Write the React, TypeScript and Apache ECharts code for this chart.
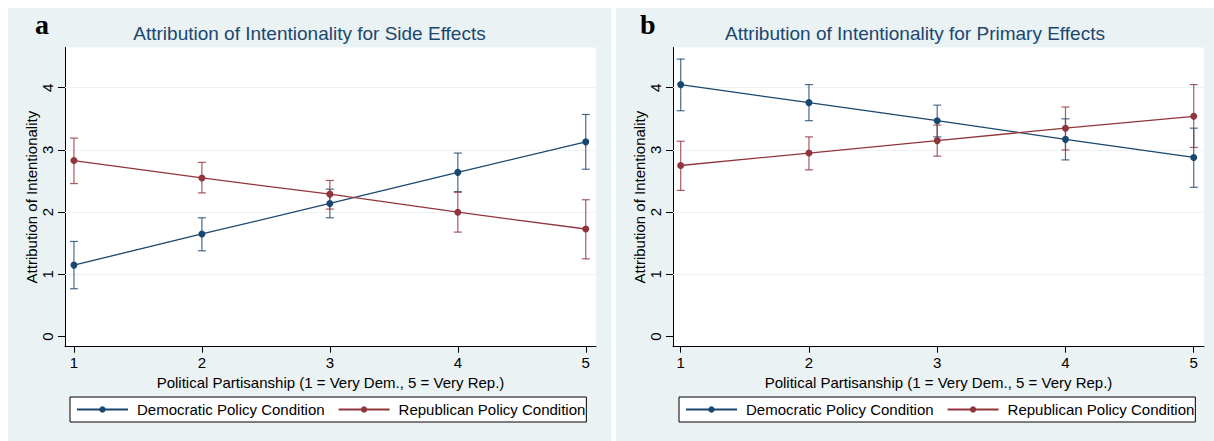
import React, { useEffect, useRef } from "react";
import * as echarts from "echarts";

// ---- Data ----
const xTicks = [1, 2, 3, 4, 5];
const yTicks = [0, 1, 2, 3, 4];
const gridLines = [1, 2, 3, 4];

const seriesNames = ["Democratic Policy Condition", "Republican Policy Condition"];
const panelTitles = [
  "Attribution of Intentionality for Side Effects",
  "Attribution of Intentionality for Primary Effects",
];
const panelLetters = ["a", "b"];
const xAxisTitle = "Political Partisanship (1 = Very Dem., 5 = Very Rep.)";
const yAxisTitle = "Attribution of Intentionality";

// Panel a: side effects
const sideDem = [1.15, 1.65, 2.14, 2.64, 3.13];
const sideDemLo = [0.77, 1.38, 1.91, 2.33, 2.69];
const sideDemHi = [1.53, 1.91, 2.37, 2.95, 3.57];
const sideRep = [2.83, 2.55, 2.29, 2.0, 1.73];
const sideRepLo = [2.46, 2.31, 2.05, 1.68, 1.25];
const sideRepHi = [3.19, 2.8, 2.51, 2.32, 2.2];

// Panel b: primary effects
const primDem = [4.05, 3.76, 3.47, 3.17, 2.88];
const primDemLo = [3.63, 3.47, 3.21, 2.84, 2.4];
const primDemHi = [4.46, 4.05, 3.72, 3.5, 3.35];
const primRep = [2.75, 2.95, 3.15, 3.35, 3.54];
const primRepLo = [2.35, 2.68, 2.9, 3.0, 3.04];
const primRepHi = [3.14, 3.21, 3.4, 3.69, 4.05];

const NAVY = "#1a476f";
const MAROON = "#90353b";
const BG = "#eaf2f3";
const FONT = "'Liberation Sans', Arial, Helvetica, sans-serif";

function pairs(ys: number[]) {
  return xTicks.map((x, i) => [x, ys[i]]);
}
function ranges(lo: number[], hi: number[]) {
  return xTicks.map((x, i) => [x, lo[i], hi[i]]);
}

function errorSeries(idx: number, data: number[][], color: string, withGrid: boolean) {
  const s: any = {
    type: "custom",
    xAxisIndex: idx,
    yAxisIndex: idx,
    z: 2,
    silent: true,
    data,
    encode: { x: 0, y: [1, 2] },
    renderItem: (params: any, api: any) => {
      const x = api.value(0);
      const lo = api.coord([x, api.value(1)]);
      const hi = api.coord([x, api.value(2)]);
      const w = 4;
      const style = { stroke: color, lineWidth: 1.2, opacity: 0.8 };
      return {
        type: "group",
        children: [
          { type: "line", shape: { x1: lo[0], y1: lo[1], x2: hi[0], y2: hi[1] }, style },
          { type: "line", shape: { x1: lo[0] - w, y1: lo[1], x2: lo[0] + w, y2: lo[1] }, style },
          { type: "line", shape: { x1: hi[0] - w, y1: hi[1], x2: hi[0] + w, y2: hi[1] }, style },
        ],
      };
    },
  };
  if (withGrid) {
    s.markLine = {
      silent: true,
      symbol: ["none", "none"],
      z: 1,
      label: { show: false },
      lineStyle: { color: BG, width: 1.2, type: "solid" },
      data: gridLines.map((v) => ({ yAxis: v })),
    };
  }
  return s;
}

function lineSeries(idx: number, name: string, data: number[][], color: string) {
  return {
    type: "line",
    name,
    xAxisIndex: idx,
    yAxisIndex: idx,
    z: 3,
    data,
    symbol: "circle",
    symbolSize: 7,
    color,
    itemStyle: { color },
    lineStyle: { color, width: 1.3 },
  };
}

const gridDefs = [
  { left: 65, width: 531 },
  { left: 673, width: 531 },
];
const panelRects = [
  { x: 8, w: 603 },
  { x: 616, w: 598 },
];
const legendLefts = [70, 679];

export default function App() {
  const ref = useRef<HTMLDivElement>(null);
  useEffect(() => {
    document.body.style.margin = "0";
    const chart = echarts.init(ref.current!, null, { renderer: "svg" });

    const axisText = { color: "#000", fontSize: 15, fontFamily: FONT };

    const option: any = {
      animation: false,
      textStyle: { fontFamily: FONT },
      graphic: [
        ...panelRects.map((p) => ({
          type: "rect",
          z: -10,
          silent: true,
          shape: { x: p.x, y: 8, width: p.w, height: 433 },
          style: { fill: BG },
        })),
        ...panelLetters.map((t, i) => ({
          type: "text",
          z: 10,
          x: i === 0 ? 35 : 640,
          y: 24,
          style: {
            text: t,
            font: "bold 28px 'Liberation Serif', 'Times New Roman', serif",
            fill: "#000",
            verticalAlign: "middle",
          },
        })),
      ],
      title: panelTitles.map((t, i) => ({
        text: t,
        left: i === 0 ? 309.5 : 915,
        textAlign: "center",
        top: 24,
        padding: 0,
        textStyle: { color: NAVY, fontSize: 19, fontWeight: "normal", fontFamily: FONT },
      })),
      grid: gridDefs.map((g) => ({
        left: g.left,
        width: g.width,
        top: 47.5,
        height: 299.2,
        show: true,
        backgroundColor: "#fff",
        borderWidth: 0,
        containLabel: false,
      })),
      xAxis: gridDefs.map((_, i) => ({
        gridIndex: i,
        type: "value",
        min: i === 0 ? 0.93 : 0.94,
        max: 5.08,
        name: xAxisTitle,
        nameLocation: "middle",
        nameGap: 25,
        nameTextStyle: axisText,
        axisLine: { show: true, onZero: false, lineStyle: { color: "#000", width: 1 } },
        axisTick: { show: true, customValues: xTicks, length: 6, lineStyle: { color: "#000" } },
        axisLabel: { show: true, customValues: xTicks, margin: 8, ...axisText },
        splitLine: { show: false },
      })),
      yAxis: gridDefs.map((_, i) => ({
        gridIndex: i,
        type: "value",
        min: -0.161,
        max: 4.646,
        name: yAxisTitle,
        nameLocation: "middle",
        nameRotate: 90,
        nameGap: 22,
        nameTextStyle: axisText,
        axisLine: { show: true, onZero: false, lineStyle: { color: "#000", width: 1 } },
        axisTick: { show: true, customValues: yTicks, length: 7, lineStyle: { color: "#000" } },
        axisLabel: { show: true, customValues: yTicks, rotate: 90, margin: 10, ...axisText },
        splitLine: { show: false },
      })),
      legend: legendLefts.map((l) => ({
        left: l,
        top: 397,
        orient: "horizontal",
        data: seriesNames,
        selectedMode: false,
        itemWidth: 51,
        itemHeight: 8,
        itemGap: 13,
        padding: [5, 1, 5, 6],
        backgroundColor: "#fff",
        borderColor: "#000",
        borderWidth: 1,
        borderRadius: 0,
        textStyle: { color: "#000", fontSize: 15, fontFamily: FONT, padding: [0, 0, 0, 4] },
      })),
      series: [
        errorSeries(0, ranges(sideDemLo, sideDemHi), NAVY, true),
        errorSeries(0, ranges(sideRepLo, sideRepHi), MAROON, false),
        lineSeries(0, seriesNames[0], pairs(sideDem), NAVY),
        lineSeries(0, seriesNames[1], pairs(sideRep), MAROON),
        errorSeries(1, ranges(primDemLo, primDemHi), NAVY, true),
        errorSeries(1, ranges(primRepLo, primRepHi), MAROON, false),
        lineSeries(1, seriesNames[0], pairs(primDem), NAVY),
        lineSeries(1, seriesNames[1], pairs(primRep), MAROON),
      ],
    };
    chart.setOption(option);
    return () => chart.dispose();
  }, []);
  return <div ref={ref} style={{ width: 1214, height: 441, background: "#fff" }} />;
}
